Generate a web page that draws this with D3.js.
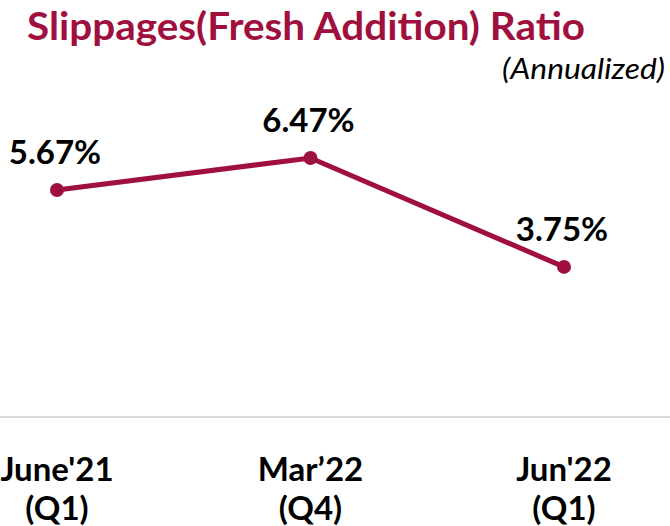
<!DOCTYPE html>
<html>
<head>
<meta charset="utf-8">
<script src="https://cdn.jsdelivr.net/npm/d3@7"></script>
<style>
  body { margin: 0; background: #fff; }
  svg { display: block; font-family: Lato, "Open Sans", sans-serif; }
</style>
</head>
<body>
<script>
(function(){

//chart data
var categories = ["June'21", "Mar\u201922", "Jun'22"];
var quarters = ["(Q1)", "(Q4)", "(Q1)"];
var ratios = [5.67, 6.47, 3.75];
var valueLabels = ["5.67%", "6.47%", "3.75%"];

var width = 670,
    height = 526,
    lineColor = "#A0103E";

var svg = d3.select("body")
    .append("svg")
    .attr("width", width)
    .attr("height", height);

//x positions of categories
var x = d3.scalePoint()
    .domain(categories)
    .range([57, 564]);

//y scale, zero sits on the baseline
var y = d3.scaleLinear()
    .domain([0, 6.47])
    .range([417, 158]);

//title
svg.append("text")
    .attr("x", 27)
    .attr("y", 40)
    .attr("textLength", 558)
    .attr("lengthAdjust", "spacingAndGlyphs")
    .style("font-size", "39px")
    .style("font-weight", "bold")
    .style("fill", lineColor)
    .text("Slippages(Fresh Addition) Ratio");

svg.append("text")
    .attr("x", 665)
    .attr("y", 79)
    .attr("text-anchor", "end")
    .attr("textLength", 163)
    .attr("lengthAdjust", "spacingAndGlyphs")
    .style("font-size", "29px")
    .style("font-style", "italic")
    .style("fill", "#000")
    .text("(Annualized)");

//baseline axis
svg.append("line")
    .attr("x1", 0)
    .attr("x2", width)
    .attr("y1", y(0))
    .attr("y2", y(0))
    .style("stroke", "#d9d9d9")
    .style("stroke-width", 2);

var line = d3.line()
    .x(function(d, i){ return x(categories[i]); })
    .y(function(d){ return y(d); });

svg.append("path")
    .datum(ratios)
    .attr("d", line)
    .style("fill", "none")
    .style("stroke", lineColor)
    .style("stroke-width", 5);

svg.selectAll(".dot")
    .data(ratios)
    .enter()
    .append("circle")
    .attr("class", "dot")
    .attr("cx", function(d, i){ return x(categories[i]); })
    .attr("cy", function(d){ return y(d); })
    .attr("r", 7)
    .style("fill", lineColor);

//value labels
svg.selectAll(".val")
    .data(ratios)
    .enter()
    .append("text")
    .attr("class", "val")
    .attr("x", function(d, i){ return x(categories[i]) - 2; })
    .attr("y", function(d){ return y(d) - 26; })
    .attr("text-anchor", "middle")
    .style("font-size", "33px")
    .style("font-weight", "bold")
    .style("fill", "#000")
    .text(function(d, i){ return valueLabels[i]; });

//category labels, second line runs off the bottom edge as in the original
var cats = svg.selectAll(".cat")
    .data(categories)
    .enter()
    .append("text")
    .attr("class", "cat")
    .attr("text-anchor", "middle")
    .style("font-size", "33px")
    .style("font-weight", "bold")
    .style("fill", "#000");

cats.append("tspan")
    .attr("x", function(d){ return x(d); })
    .attr("y", 481)
    .text(function(d){ return d; });

cats.append("tspan")
    .attr("x", function(d){ return x(d); })
    .attr("y", 520)
    .text(function(d, i){ return quarters[i]; });

})();
</script>
</body>
</html>
